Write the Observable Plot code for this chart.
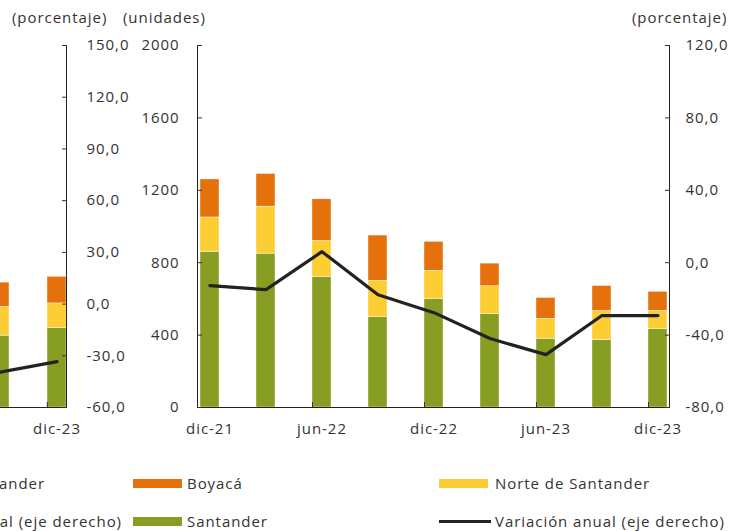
<!DOCTYPE html>
<html><head><meta charset="utf-8">
<script src="https://cdn.jsdelivr.net/npm/d3@7"></script>
<script src="https://cdn.jsdelivr.net/npm/@observablehq/plot@0.6"></script>
<style>
html,body{margin:0;padding:0;background:#fff;}
body{width:741px;height:531px;overflow:hidden;position:relative;font-family:"Open Sans",sans-serif;color:#333;}
.abs{position:absolute;white-space:nowrap;font-size:15px;line-height:20px;letter-spacing:0.95px;}
#main{position:absolute;left:0;top:0;}
#left{position:absolute;left:-100px;top:0;z-index:2;}
.sw{position:absolute;width:49px;height:9px;}
.ln{position:absolute;width:52px;height:3px;background:#222;}
</style></head><body>
<div id="main"></div>
<div id="left"></div>
<div class="abs" style="left:12px;top:7px;">(porcentaje)</div>
<div class="abs" style="left:123px;top:7px;">(unidades)</div>
<div class="abs" style="left:632px;top:7px;">(porcentaje)</div>
<div id="legend"></div>
<script>
// ---- main panel data ----
const periods = ["dic-21","mar-22","jun-22","sep-22","dic-22","mar-23","jun-23","sep-23","dic-23"];
const santander = [860, 850, 720, 500, 600, 515, 380, 373, 434];
const norteSantander = [190, 260, 200, 200, 155, 155, 110, 160, 100];
const boyaca = [210, 180, 230, 250, 160, 125, 115, 138, 105];
const variacionAnual = [-12.7, -14.9, 6.1, -17.7, -27.6, -41.9, -50.8, -29.2, -29.2];
const xTickLabels = ["dic-21","jun-22","dic-22","jun-23","dic-23"];
const unitTicks = [0, 400, 800, 1200, 1600, 2000];
const pctTicks = [-80, -40, 0, 40, 80, 120];
// ---- left (cropped) panel data ----
const leftPeriods = ["sep-23","dic-23"];
const leftSantander = [397, 439];
const leftNorte = [159, 136];
const leftBoyaca = [134, 147];
const leftVariacion = [-39.5, -33.4];
const leftXTickLabels = ["dic-23"];
const leftPctTicks = [-60, -30, 0, 30, 60, 90, 120, 150];

const seriesNames = ["Santander","Norte de Santander","Boyacá"];
const seriesColors = ["#879e23","#fdce34","#e5710c"];
const lineColor = "#222";
const font = '"Open Sans", sans-serif';
const fmtPct = d => d.toFixed(1).replace(".", ",");

function buildRows(per, a, b, c) {
  const rows = [];
  per.forEach((p, i) => {
    rows.push({period: p, series: seriesNames[0], value: a[i]});
    rows.push({period: p, series: seriesNames[1], value: b[i]});
    rows.push({period: p, series: seriesNames[2], value: c[i]});
  });
  return rows;
}
const svgStyle = {background: "transparent", fontFamily: font, fontSize: "15px", color: "#333", letterSpacing: "0.95px"};

// main panel
const mainRows = buildRows(periods, santander, norteSantander, boyaca);
const lineRows = periods.map((p, i) => ({period: p, v: variacionAnual[i]}));
const pctToUnits = d3.scaleLinear([-80, 120], [0, 2000]);
const padIn = 0.664;
const mW = 741, mL = 197, mR = 72;
const bw = (mW - mL - mR) / (periods.length - padIn) * (1 - padIn);

const mainPlot = Plot.plot({
  width: mW, height: 445,
  marginLeft: mL, marginRight: mR, marginTop: 45, marginBottom: 38,
  style: svgStyle,
  x: {domain: periods, paddingInner: padIn, paddingOuter: 0, axis: null, label: null},
  y: {domain: [0, 2000], axis: null, label: null},
  color: {domain: seriesNames, range: seriesColors},
  marks: [
    Plot.barY(mainRows, {x: "period", y: "value", fill: "series", stroke: "#fff", strokeWidth: 0.4}),
    Plot.line(lineRows, {x: "period", y: d => pctToUnits(d.v), stroke: lineColor, strokeWidth: 3.2}),
    Plot.frame({anchor: "left", stroke: "#222"}),
    Plot.frame({anchor: "right", stroke: "#222"}),
    Plot.frame({anchor: "bottom", stroke: "#222"}),
    Plot.axisY(unitTicks, {anchor: "left", tickSize: -5, tickPadding: 23, label: null, tickFormat: d => String(d)}),
    Plot.axisY(pctTicks, {anchor: "right", y: pctToUnits, tickSize: -5, tickPadding: 21, label: null, tickFormat: fmtPct}),
    Plot.axisX(xTickLabels, {anchor: "bottom", tickSize: 0, tickPadding: 16, label: null}),
    Plot.axisX(xTickLabels.slice(1), {anchor: "bottom", tickSize: -5, dx: -bw / 2, tickFormat: () => "", label: null})
  ]
});
document.getElementById("main").appendChild(mainPlot);

// left cropped panel
const leftRows = buildRows(leftPeriods, leftSantander, leftNorte, leftBoyaca);
const leftLine = leftPeriods.map((p, i) => ({period: p, v: leftVariacion[i]}));
const lPctToUnits = d3.scaleLinear([-60, 150], [0, 2000]);
const lOff = 100;           // svg shifted 100px to the left
const lRight = 66 + lOff;   // right axis position inside svg
const lStep = 57.5;
const lRangeLen = lStep * (leftPeriods.length - padIn);
const lW = lRight + 80;
const lbw = lRangeLen / (leftPeriods.length - padIn) * (1 - padIn);

const leftPlot = Plot.plot({
  width: lW, height: 445,
  marginLeft: lRight - lRangeLen, marginRight: 80, marginTop: 45, marginBottom: 38,
  style: svgStyle,
  x: {domain: leftPeriods, paddingInner: padIn, paddingOuter: 0, axis: null, label: null},
  y: {domain: [0, 2000], axis: null, label: null},
  color: {domain: seriesNames, range: seriesColors},
  marks: [
    Plot.barY(leftRows, {x: "period", y: "value", fill: "series", stroke: "#fff", strokeWidth: 0.4}),
    Plot.line(leftLine, {x: "period", y: d => lPctToUnits(d.v), stroke: lineColor, strokeWidth: 3.2}),
    Plot.frame({anchor: "right", stroke: "#222"}),
    Plot.frame({anchor: "bottom", stroke: "#222"}),
    Plot.axisY(leftPctTicks, {anchor: "right", y: lPctToUnits, tickSize: -5, tickPadding: 25, label: null, tickFormat: fmtPct}),
    Plot.axisX(leftXTickLabels, {anchor: "bottom", tickSize: 0, tickPadding: 16, label: null}),
    Plot.axisX(leftXTickLabels, {anchor: "bottom", tickSize: -5, dx: -lbw / 2, tickFormat: () => "", label: null})
  ]
});
document.getElementById("left").appendChild(leftPlot);

// legend
const legend = document.getElementById("legend");
function addText(txt, css) {
  const d = document.createElement("div");
  d.className = "abs"; d.textContent = txt; d.style.cssText += css;
  legend.appendChild(d);
}
function addBox(cls, css, color) {
  const d = document.createElement("div");
  d.className = cls; d.style.cssText = css; if (color) d.style.background = color;
  legend.appendChild(d);
}
// cropped legend of left panel (overflowing to the left)
addText("Norte de Santander", "right:696px;top:473px;");
addText("Variación anual (eje derecho)", "right:619px;top:511px;");
// main legend
addBox("sw", "left:133px;top:479px;", seriesColors[2]);
addText("Boyacá", "left:187px;top:473px;");
addBox("sw", "left:439px;top:479px;", seriesColors[1]);
addText("Norte de Santander", "left:495px;top:473px;");
addBox("sw", "left:133px;top:517px;", seriesColors[0]);
addText("Santander", "left:187px;top:511px;");
addBox("ln", "left:439px;top:520px;", lineColor);
addText("Variación anual (eje derecho)", "left:495px;top:511px;");
</script>
</body></html>
